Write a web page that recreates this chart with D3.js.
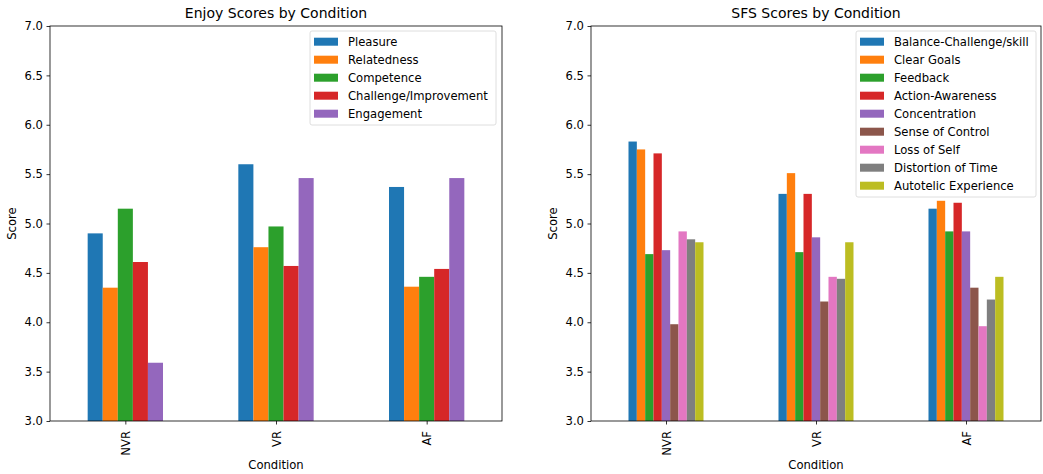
<!DOCTYPE html>
<html>
<head>
<meta charset="utf-8">
<script src="https://cdn.jsdelivr.net/npm/d3@7"></script>
<style>
  html, body { margin: 0; padding: 0; background: #fff; }
  svg text { font-family: "DejaVu Sans", sans-serif; fill: #000; }
</style>
</head>
<body>
<svg id="chart" width="1043" height="474"></svg>
<script>
// Conditions shared by both panels
const conditions = ["NVR", "VR", "AF"];
const yTicks = [3.0, 3.5, 4.0, 4.5, 5.0, 5.5, 6.0, 6.5, 7.0];

// Enjoyment subscales
const enjoySeries = ["Pleasure", "Relatedness", "Competence", "Challenge/Improvement", "Engagement"];
const pleasure    = [4.90, 5.60, 5.37];
const relatedness = [4.35, 4.76, 4.36];
const competence  = [5.15, 4.97, 4.46];
const challenge   = [4.61, 4.57, 4.54];
const engagement  = [3.59, 5.46, 5.46];

// Short Flow Scale subscales
const sfsSeries = ["Balance-Challenge/skill", "Clear Goals", "Feedback", "Action-Awareness",
  "Concentration", "Sense of Control", "Loss of Self", "Distortion of Time", "Autotelic Experience"];
const balance       = [5.83, 5.30, 5.15];
const clearGoals    = [5.75, 5.51, 5.23];
const feedback      = [4.69, 4.71, 4.92];
const actionAware   = [5.71, 5.30, 5.21];
const concentration = [4.73, 4.86, 4.92];
const senseControl  = [3.98, 4.21, 4.35];
const lossOfSelf    = [4.92, 4.46, 3.96];
const distortion    = [4.84, 4.44, 4.23];
const autotelic     = [4.81, 4.81, 4.46];

const tab10 = ["#1f77b4", "#ff7f0e", "#2ca02c", "#d62728", "#9467bd",
               "#8c564b", "#e377c2", "#7f7f7f", "#bcbd22", "#17becf"];

const FS = "11.6px";   // tick, label and legend text
const TITLE_FS = "14px";

const svg = d3.select("#chart");

function panel(opts) {
  const { left, right, top, bottom, title, seriesNames, values, legendBox } = opts;
  const g = svg.append("g");

  // Categorical positions 0..n-1 with half-step padding on each side
  const x = d3.scaleLinear().domain([-0.5, conditions.length - 0.5]).range([left, right]);
  const y = d3.scaleLinear().domain([3, 7]).range([bottom, top]);

  const groupWidth = 0.5;
  const n = seriesNames.length;
  const barW = groupWidth / n;

  seriesNames.forEach((name, si) => {
    g.append("g").selectAll("rect")
      .data(values[si])
      .join("rect")
      .attr("x", (d, ci) => x(ci - groupWidth / 2 + si * barW))
      .attr("width", x(barW) - x(0))
      .attr("y", d => y(d))
      .attr("height", d => y(3) - y(d))
      .attr("fill", tab10[si]);
  });

  // Y axis
  const yAxis = d3.axisLeft(y).tickValues(yTicks).tickFormat(d3.format(".1f")).tickSize(3.5).tickPadding(3.5);
  const ya = g.append("g").attr("transform", `translate(${left},0)`).call(yAxis);
  ya.select(".domain").remove();
  ya.selectAll("text").style("font-size", FS).style("font-family", "DejaVu Sans");
  ya.selectAll("line").attr("stroke", "#000").attr("stroke-width", 0.8);

  // X axis with rotated category labels
  const xAxis = d3.axisBottom(x).tickValues(d3.range(conditions.length))
    .tickFormat(i => conditions[i]).tickSize(3.5).tickPadding(3.5);
  const xa = g.append("g").attr("transform", `translate(0,${bottom})`).call(xAxis);
  xa.select(".domain").remove();
  xa.selectAll("line").attr("stroke", "#000").attr("stroke-width", 0.8);
  xa.selectAll("text")
    .style("font-size", FS).style("font-family", "DejaVu Sans")
    .attr("transform", "rotate(-90)")
    .attr("x", -10).attr("y", 0).attr("dy", "0.35em")
    .attr("text-anchor", "end");

  // Frame
  g.append("rect")
    .attr("x", left).attr("y", top)
    .attr("width", right - left).attr("height", bottom - top)
    .attr("fill", "none").attr("stroke", "#000").attr("stroke-width", 0.8);

  // Title and axis labels
  g.append("text").attr("x", (left + right) / 2).attr("y", top - 8.5)
    .attr("text-anchor", "middle").style("font-size", TITLE_FS).text(title);
  g.append("text").attr("x", (left + right) / 2).attr("y", 469)
    .attr("text-anchor", "middle").style("font-size", FS).text("Condition");
  g.append("text")
    .attr("transform", `translate(${left - 34},${(top + bottom) / 2}) rotate(-90)`)
    .attr("text-anchor", "middle").style("font-size", FS).text("Score");

  // Legend
  const lg = g.append("g");
  const rowH = 18;
  lg.append("rect")
    .attr("x", legendBox.x).attr("y", legendBox.y)
    .attr("width", legendBox.w).attr("height", 22 + rowH * (n - 1))
    .attr("rx", 2).attr("fill", "#fff").attr("fill-opacity", 0.8)
    .attr("stroke", "#d6d6d6").attr("stroke-width", 0.8);
  seriesNames.forEach((name, si) => {
    const cy = legendBox.y + 10.7 + si * rowH;
    lg.append("rect").attr("x", legendBox.x + 4).attr("y", cy - 4)
      .attr("width", 24).attr("height", 8).attr("fill", tab10[si]);
    lg.append("text").attr("x", legendBox.x + 38).attr("y", cy).attr("dy", "0.36em")
      .style("font-size", FS).text(name);
  });
}

panel({
  left: 50, right: 502, top: 26, bottom: 421,
  title: "Enjoy Scores by Condition",
  seriesNames: enjoySeries,
  values: [pleasure, relatedness, competence, challenge, engagement],
  legendBox: { x: 310, y: 31, w: 186 }
});

panel({
  left: 591, right: 1041, top: 26, bottom: 421,
  title: "SFS Scores by Condition",
  seriesNames: sfsSeries,
  values: [balance, clearGoals, feedback, actionAware, concentration, senseControl, lossOfSelf, distortion, autotelic],
  legendBox: { x: 856, y: 31, w: 180 }
});
</script>
</body>
</html>
